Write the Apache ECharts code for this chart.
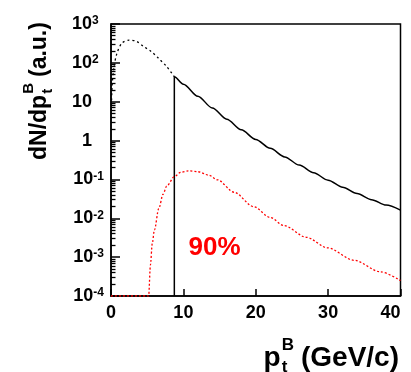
<!DOCTYPE html>
<html>
<head>
<meta charset="utf-8">
<script src="https://cdn.jsdelivr.net/npm/echarts@6/dist/echarts.min.js"></script>
<style>
html, body { margin: 0; padding: 0; background: #fff; }
#chart { width: 411px; height: 372px; }
</style>
</head>
<body>
<div id="chart"></div>
<script>
// black dashed curve (full spectrum below the cut)
var lowPt  = [0.05, 0.15, 0.4, 0.8, 1.5, 2.5, 3.5, 4.5, 5.5, 6.5, 7.7, 8.75];
var lowVal = [6, 25, 75, 170, 320, 385, 360, 265, 200, 135, 80, 44];

// black solid curve (above the cut, with the vertical cut line)
var highPt  = [8.75, 8.75, 10, 12, 14, 16, 18, 20, 22, 24, 26, 28, 30, 32, 34, 36, 38, 40];
var highVal = [1e-4, 44, 28.2, 13.8, 6.9, 3.55, 1.9, 1.07, 0.63, 0.38, 0.234, 0.148, 0.0955, 0.063, 0.0432, 0.0302, 0.0219, 0.0162];

// red dashed curve (90%)
var redPt  = [0, 5.2, 5.45, 5.7, 6.0, 6.6, 7.2, 7.7, 8.75, 9.6, 10.7, 12, 13.5, 14.7, 17, 19.7, 22, 23.9, 27, 29.9, 33.6, 37.2, 40];
var redVal = [1e-4, 1e-4, 6.3e-4, 2.24e-3, 5.0e-3, 0.0178, 0.0417, 0.0676, 0.1175, 0.151, 0.166, 0.158, 0.129, 0.0977,
              0.0468, 0.020, 0.0105, 0.00646, 0.00324, 0.00174, 0.00083, 0.00042, 0.00025];

var xTicks = [0, 10, 20, 30, 40];
var yMinExp = -4, yMaxExp = 3;
// minor tick positions (2..9 within each decade), as exponents
var yMinor = [];
for (var d = yMinExp; d < yMaxExp; d++) {
    for (var k = 2; k < 10; k++) {
        yMinor.push(d + Math.log10(k));
    }
}

var FONT = '"Liberation Sans", Arial, Helvetica, sans-serif';
var ctx = document.createElement('canvas').getContext('2d');
function textW(s, size) {
    ctx.font = 'bold ' + size + 'px ' + FONT;
    return ctx.measureText(s).width;
}
function pairs(xs, ys) {
    return xs.map(function (x, i) { return [x, ys[i]]; });
}
function txt(s, size, x, y, color) {
    return {
        type: 'text', x: x, y: y,
        style: {
            text: s, fontSize: size, fontWeight: 'bold', fontFamily: FONT,
            fill: color || '#000', align: 'left', verticalAlign: 'middle'
        }
    };
}

// axis titles with stacked sub/superscript
var yFs = 23, ySub = 15;
var yW1 = textW('dN/dp', yFs);
var yWs = Math.max(textW('B', ySub), textW('t', ySub));
var yTitle = {
    type: 'group', x: 40, y: 160, rotation: Math.PI / 2,
    children: [
        txt('dN/dp', yFs, 0, 0),
        txt('B', ySub, yW1 + 1, -11),
        txt('t', ySub, yW1 + 1, 8),
        txt('(a.u.)', yFs, yW1 + 1 + yWs + 6, 0)
    ]
};

var xFs = 28, xSub = 17;
var xW1 = textW('p', xFs);
var xWs = Math.max(textW('B', xSub), textW('t', xSub));
var xW2 = textW('(GeV/c)', xFs);
var xTotal = xW1 + 1 + xWs + 7 + xW2;
var xTitle = {
    type: 'group', x: 399 - xTotal, y: 358,
    children: [
        txt('p', xFs, 0, 0),
        txt('B', xSub, xW1 + 1, -13),
        txt('t', xSub, xW1 + 1, 9),
        txt('(GeV/c)', xFs, xW1 + 1 + xWs + 7, 0)
    ]
};

// superscript column is 12px wide, base numbers line up on the left of it
var supW = 12;
var padOne = supW - textW('3', 12);

var chart = echarts.init(document.getElementById('chart'));
var option = {
    backgroundColor: '#fff',
    animation: false,
    grid: {
        left: 111, right: 10.5, top: 24, bottom: 76,
        show: true, borderColor: '#000', borderWidth: 1.5, backgroundColor: 'transparent'
    },
    xAxis: {
        type: 'value', min: 0, max: 40, interval: 10,
        axisLine: { show: true, onZero: false, lineStyle: { color: '#000', width: 1.5 } },
        axisTick: { show: true, inside: true, length: 7, lineStyle: { color: '#000', width: 1.5 } },
        axisLabel: {
            color: '#000', fontSize: 18, fontWeight: 'bold', fontFamily: FONT, margin: 8,
            alignMaxLabel: 'right'
        },
        splitLine: { show: false }
    },
    yAxis: [
        {
            type: 'log', logBase: 10, min: Math.pow(10, yMinExp), max: Math.pow(10, yMaxExp), interval: 1,
            axisLine: { show: true, onZero: false, lineStyle: { color: '#000', width: 1.5 } },
            axisTick: { show: true, inside: true, length: 9, lineStyle: { color: '#000', width: 1.5 } },
            axisLabel: {
                margin: 7, color: '#000',
                formatter: function (v) {
                    var e = Math.round(Math.log10(v));
                    if (e === 0) return '{b|1}{sp| }';
                    if (e === 1) return '{b|10}{sp| }';
                    if (e > 0) return '{b|10}{s|' + e + '}{p1| }';
                    return '{b|10}{s|' + e + '}';
                },
                rich: {
                    b: { fontSize: 18, fontWeight: 'bold', fontFamily: FONT, color: '#000', lineHeight: 18 },
                    s: {
                        fontSize: 12, fontWeight: 'bold', fontFamily: FONT, color: '#000',
                        verticalAlign: 'top', lineHeight: 12, padding: [0, 0, 24, 0]
                    },
                    sp: { fontSize: 12, width: supW },
                    p1: { fontSize: 12, width: padOne }
                }
            },
            splitLine: { show: false }
        },
        {
            // linear twin in exponent space, only for the minor ticks
            type: 'value', min: yMinExp, max: yMaxExp, position: 'left',
            axisLine: { show: false, onZero: false },
            axisTick: { show: true, inside: true, length: 4.5, customValues: yMinor, lineStyle: { color: '#000', width: 1.3 } },
            axisLabel: { show: false },
            splitLine: { show: false }
        }
    ],
    graphic: [yTitle, xTitle],
    series: [
        {
            type: 'line', name: 'low', data: pairs(lowPt, lowVal), yAxisIndex: 0,
            smooth: 0.3, showSymbol: false,
            lineStyle: { color: '#000', width: 1.3, type: [2, 3] }
        },
        {
            type: 'line', name: 'high', data: pairs(highPt, highVal), yAxisIndex: 0,
            smooth: 0.3, smoothMonotone: 'x', showSymbol: false,
            lineStyle: { color: '#000', width: 1.5 }
        },
        {
            type: 'line', name: 'red', data: pairs(redPt, redVal), yAxisIndex: 0,
            smooth: 0.3, smoothMonotone: 'x', showSymbol: false,
            lineStyle: { color: '#ff0000', width: 1.3, type: [2, 2] },
            markPoint: {
                symbol: 'circle', symbolSize: 1, silent: true,
                itemStyle: { color: 'rgba(0,0,0,0)' },
                label: {
                    show: true, position: 'inside', formatter: '90%',
                    color: '#ff0000', fontSize: 26, fontWeight: 'bold', fontFamily: FONT
                },
                data: [{ coord: [14.3, 1.7e-3] }]
            }
        }
    ]
};
chart.setOption(option);
</script>
</body>
</html>
